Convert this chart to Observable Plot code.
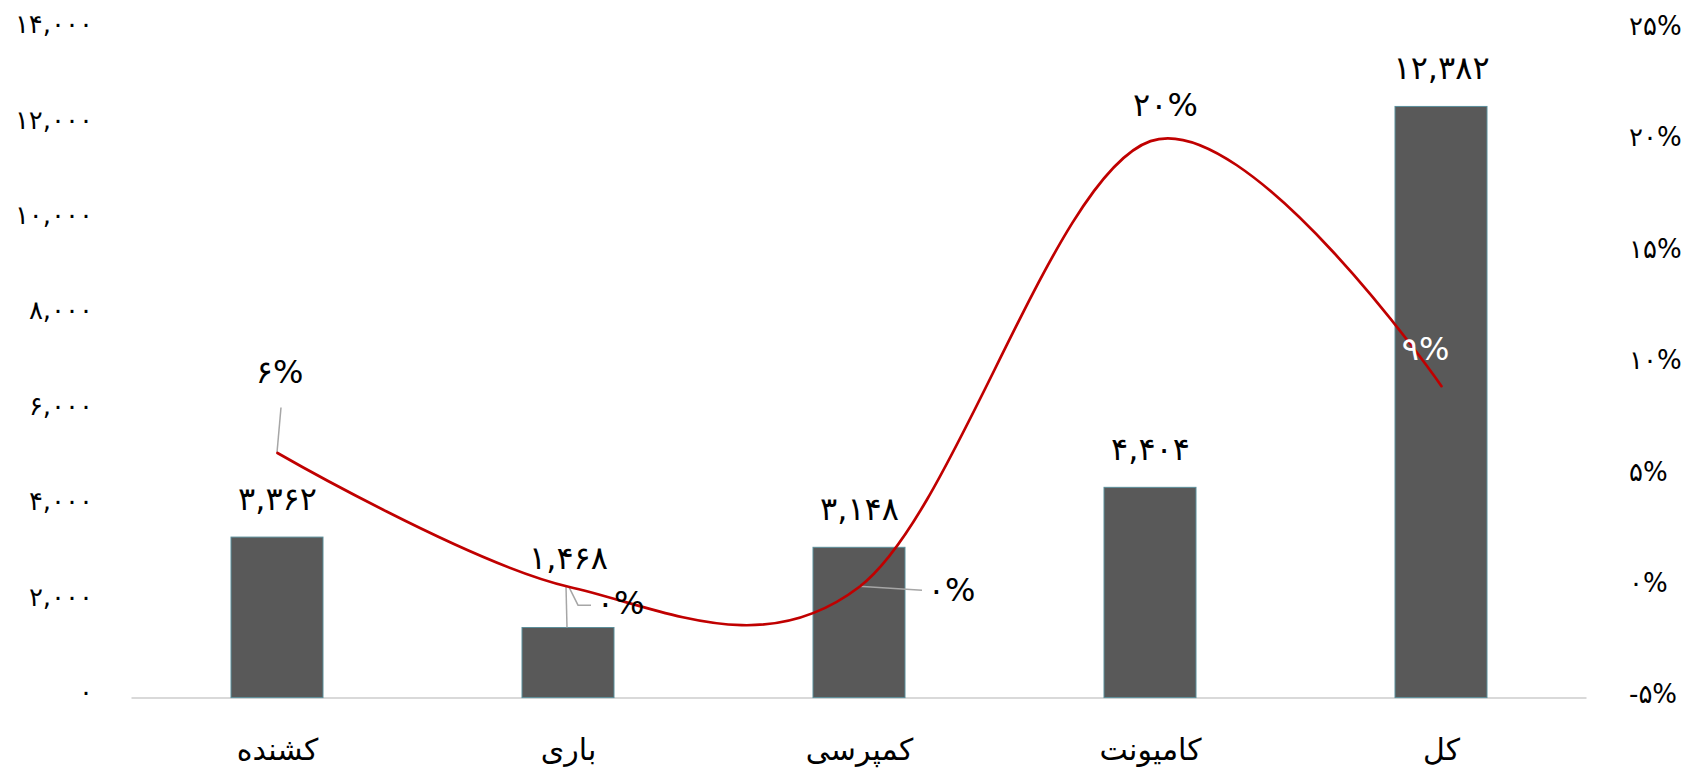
<!DOCTYPE html>
<html>
<head>
<meta charset="utf-8">
<script src="https://cdn.jsdelivr.net/npm/d3@7"></script>
<script src="https://cdn.jsdelivr.net/npm/@observablehq/plot@0.6"></script>
<style>
  html, body { margin: 0; padding: 0; background: #fff; }
</style>
</head>
<body>
<div id="chart"></div>
<script>
// ---- data ----
const categories = ["کشنده", "باری", "کمپرسی", "کامیونت", "کل"];
const counts = [3362, 1468, 3148, 4404, 12382];
const growth = [6, 0, 0, 20, 9]; // percent
const leftTicks = [0, 2000, 4000, 6000, 8000, 10000, 12000, 14000];
const rightTicks = [-5, 0, 5, 10, 15, 20, 25];

// ---- helpers ----
const LEFT_MAX = 14000, PCT_MIN = -5, PCT_MAX = 25;
const toLeft = p => (p - PCT_MIN) / (PCT_MAX - PCT_MIN) * LEFT_MAX;
const fromLeft = v => v / LEFT_MAX * (PCT_MAX - PCT_MIN) + PCT_MIN;
const fa = s => String(s).replace(/[0-9]/g, d => "۰۱۲۳۴۵۶۷۸۹"[+d]);
const fmtCount = v => fa(d3.format(",")(v));
const fmtPct = v => fa(v) + "%";

const rows = categories.map((c, i) => ({cat: c, count: counts[i], pct: growth[i]}));
const row = c => rows.filter(d => d.cat === c);

const FONT = "DejaVu Sans";
const LABEL_SIZE = 32;

// leader lines (drawn through the plot's own scales)
function leaders(index, scales) {
  const sx = scales.x, sy = scales.y;
  const bw = typeof sx.bandwidth === "function" ? sx.bandwidth() : (sx.bandwidth || 0);
  const cx = c => sx(c) + bw / 2;
  const g = d3.create("svg:g")
    .attr("fill", "none")
    .attr("stroke", "#a6a6a6")
    .attr("stroke-width", 1.5);
  const r0 = rows[0], r1 = rows[1], r2 = rows[2];
  g.append("path").attr("d", `M${cx(r0.cat)},${sy(toLeft(r0.pct))}L${cx(r0.cat) + 4},${sy(toLeft(r0.pct)) - 45}`);
  g.append("path").attr("d", `M${cx(r1.cat) - 2},${sy(toLeft(r1.pct))}L${cx(r1.cat) - 1},${sy(r1.count)}`);
  g.append("path").attr("d", `M${cx(r1.cat) + 1},${sy(toLeft(r1.pct)) + 1}L${cx(r1.cat) + 10},${sy(toLeft(r1.pct)) + 19}L${cx(r1.cat) + 23},${sy(toLeft(r1.pct)) + 19}`);
  g.append("path").attr("d", `M${cx(r2.cat)},${sy(toLeft(r2.pct))}L${cx(r2.cat) + 63},${sy(toLeft(r2.pct)) + 4}`);
  return g.node();
}

const chart = Plot.plot({
  width: 1696,
  height: 776,
  marginLeft: 131.5,
  marginRight: 109.5,
  marginTop: 29.2,
  marginBottom: 78.4,
  style: {fontFamily: FONT, background: "#fff", color: "#000", overflow: "visible"},
  x: {domain: categories, paddingInner: 0.684, paddingOuter: 0.342, label: null},
  y: {domain: [0, LEFT_MAX], label: null},
  marks: [
    Plot.axisY(leftTicks, {anchor: "left", tickSize: 0, tickPadding: 39, fontSize: 26, tickFormat: fmtCount, dy: -5, label: null}),
    Plot.axisY(rightTicks.map(toLeft), {anchor: "right", tickSize: 0, tickPadding: 42, fontSize: 26,
      tickFormat: v => fmtPct(Math.round(fromLeft(v))), dy: -3, label: null}),
    Plot.axisX({tickSize: 0, tickPadding: 41, fontSize: 30, label: null}),
    Plot.ruleY([0], {stroke: "#d9d9d9", strokeWidth: 2}),
    Plot.barY(rows, {x: "cat", y: "count", fill: "#595959", stroke: "#5b8f9b", strokeWidth: 1}),
    leaders,
    Plot.line(rows, {x: "cat", y: d => toLeft(d.pct), stroke: "#c00000", strokeWidth: 2.7, curve: "cardinal"}),
    Plot.text(rows.filter(d => d.cat !== "باری"), {x: "cat", y: "count", text: d => fmtCount(d.count), dy: -38, fontSize: LABEL_SIZE, fill: "#000"}),
    Plot.text(row("باری"), {x: "cat", y: "count", text: d => fmtCount(d.count), dy: -69, fontSize: LABEL_SIZE, fill: "#000"}),
    Plot.text(row("کشنده"), {x: "cat", y: d => toLeft(d.pct), text: d => fmtPct(d.pct), dx: 2, dy: -80, fontSize: LABEL_SIZE, fill: "#000"}),
    Plot.text(row("باری"), {x: "cat", y: d => toLeft(d.pct), text: d => fmtPct(d.pct), dx: 52, dy: 17, fontSize: LABEL_SIZE, fill: "#000"}),
    Plot.text(row("کمپرسی"), {x: "cat", y: d => toLeft(d.pct), text: d => fmtPct(d.pct), dx: 92, dy: 4, fontSize: LABEL_SIZE, fill: "#000"}),
    Plot.text(row("کامیونت"), {x: "cat", y: d => toLeft(d.pct), text: d => fmtPct(d.pct), dx: 15, dy: -35, fontSize: LABEL_SIZE, fill: "#000"}),
    Plot.text(row("کل"), {x: "cat", y: d => toLeft(d.pct), text: d => fmtPct(d.pct), dx: -16, dy: -36, fontSize: LABEL_SIZE, fill: "#fff"})
  ]
});
document.getElementById("chart").appendChild(chart);
</script>
</body>
</html>
